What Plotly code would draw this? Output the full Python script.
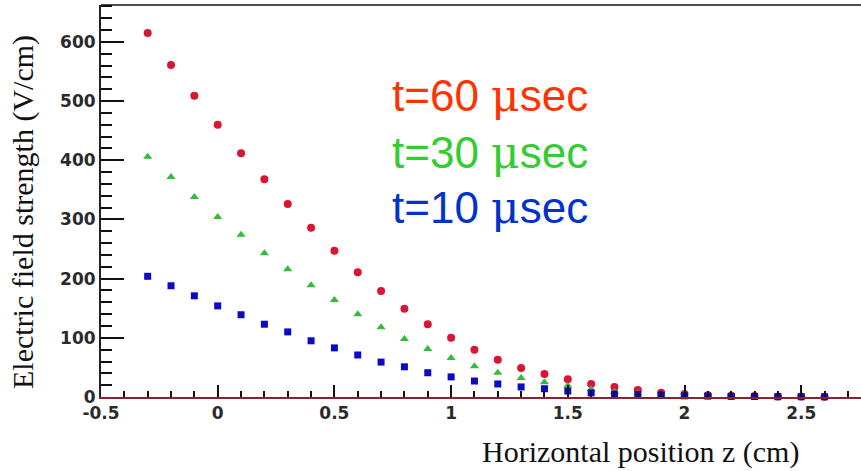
import plotly.graph_objects as go

# ---- data ----
z_cm = [-0.3, -0.2, -0.1, 0.0, 0.1, 0.2, 0.3, 0.4, 0.5, 0.6,
        0.7, 0.8, 0.9, 1.0, 1.1, 1.2, 1.3, 1.4, 1.5, 1.6,
        1.7, 1.8, 1.9, 2.0, 2.1, 2.2, 2.3, 2.4, 2.5, 2.6]

field_t60 = [615, 561, 509, 460, 412, 368, 326, 286, 247, 211,
             179, 149, 123, 100, 80, 63, 49, 39, 30, 22,
             17, 12, 7, 5, 3, 2, 1.5, 1, 1, 0.5]

field_t30 = [406, 372, 338, 304, 274, 243, 216, 189, 164, 140,
             118, 98, 81, 66, 52, 41, 32, 25, 19, 13,
             9, 6, 4, 3, 2, 1.5, 1, 0.7, 0.5, 0.3]

field_t10 = [204, 188, 171, 154, 139, 123, 110, 95, 83, 71,
             59, 51, 41, 34, 27, 22, 17, 14, 10, 7,
             5, 4, 3, 2, 1.5, 1, 0.8, 0.5, 0.4, 0.3]

x_tick_vals = [-0.5, 0, 0.5, 1, 1.5, 2, 2.5]
x_tick_text = ["-0.5", "0", "0.5", "1", "1.5", "2", "2.5"]
y_tick_vals = [0, 100, 200, 300, 400, 500, 600]
y_tick_text = ["0", "100", "200", "300", "400", "500", "600"]

series_labels = ["t=60 ", "t=30 ", "t=10 "]

# ---- layout geometry (pixels) ----
W, H = 861, 471
L, R, T, B = 101, 0, 5, 74
PW, PH = W - L - R, H - T - B


def px_x(px):
    return (px - L) / PW


def px_y(py):
    return (H - B - py) / PH


fig = go.Figure()

fig.add_trace(go.Scatter(
    x=z_cm, y=field_t60, mode="markers", cliponaxis=False,
    marker=dict(symbol="circle", size=8, color="#dc1433", line=dict(width=0)),
    showlegend=False))
fig.add_trace(go.Scatter(
    x=z_cm, y=field_t30, mode="markers", cliponaxis=False,
    marker=dict(symbol="triangle-up", size=8, color="#33bb3a", line=dict(width=0)),
    showlegend=False))
fig.add_trace(go.Scatter(
    x=z_cm, y=field_t10, mode="markers", cliponaxis=False,
    marker=dict(symbol="square", size=7, color="#0a0ac8", line=dict(width=0)),
    showlegend=False))

tick_font = dict(family="DejaVu Sans", size=17, color="#2a2a2a", weight="bold")

fig.update_layout(
    width=W, height=H,
    margin=dict(l=L, r=R, t=T, b=B, pad=0),
    paper_bgcolor="white", plot_bgcolor="white",
    xaxis=dict(
        range=[-0.5, -0.5 + PW / 233.4],
        tickmode="array", tickvals=x_tick_vals, ticktext=x_tick_text,
        ticks="inside", ticklen=12, tickwidth=1.5, tickcolor="#111111",
        minor=dict(tickmode="linear", tick0=-0.5, dtick=0.1, ticks="inside",
                   ticklen=6, tickwidth=1.5, tickcolor="#111111"),
        showline=True, linecolor="#8b2232", linewidth=2,
        showgrid=False, zeroline=False,
        tickfont=tick_font,
    ),
    yaxis=dict(
        range=[0, PH / 0.5917],
        tickmode="array", tickvals=y_tick_vals, ticktext=y_tick_text,
        ticks="inside", ticklen=23, tickwidth=1.5, tickcolor="#111111",
        minor=dict(tickmode="linear", tick0=0, dtick=20, ticks="inside",
                   ticklen=11, tickwidth=1.5, tickcolor="#111111"),
        showline=True, linecolor="#2a1e1e", linewidth=2,
        showgrid=False, zeroline=False,
        tickfont=tick_font,
    ),
    shapes=[dict(type="line", xref="paper", yref="paper", x0=0, x1=1, y0=1, y1=1,
                 line=dict(color="#111111", width=1.5))],
)

# axis titles
fig.add_annotation(
    text="Horizontal position z (cm)", xref="paper", yref="paper",
    x=px_x(480), y=px_y(452), xanchor="left", yanchor="middle",
    showarrow=False, font=dict(family="Liberation Serif", size=30, color="#111111"))
fig.add_annotation(
    text="Electric field strength (V/cm)", xref="paper", yref="paper",
    x=px_x(23), y=px_y(212), xanchor="center", yanchor="middle", textangle=-90,
    showarrow=False, font=dict(family="Liberation Serif", size=30, color="#111111"))

# in-plot series labels
label_colors = ["#ff3300", "#33cc33", "#0033cc"]
label_y = [96, 152, 207]
for lab, col, yy in zip(series_labels, label_colors, label_y):
    fig.add_annotation(
        text=lab + "<span style=\"font-family:'DejaVu Serif'\">\u03bc</span>sec",
        xref="paper", yref="paper", x=px_x(390), y=px_y(yy),
        xanchor="left", yanchor="middle", showarrow=False,
        font=dict(family="Liberation Sans", size=44, color=col))

fig.write_html("out.html")
